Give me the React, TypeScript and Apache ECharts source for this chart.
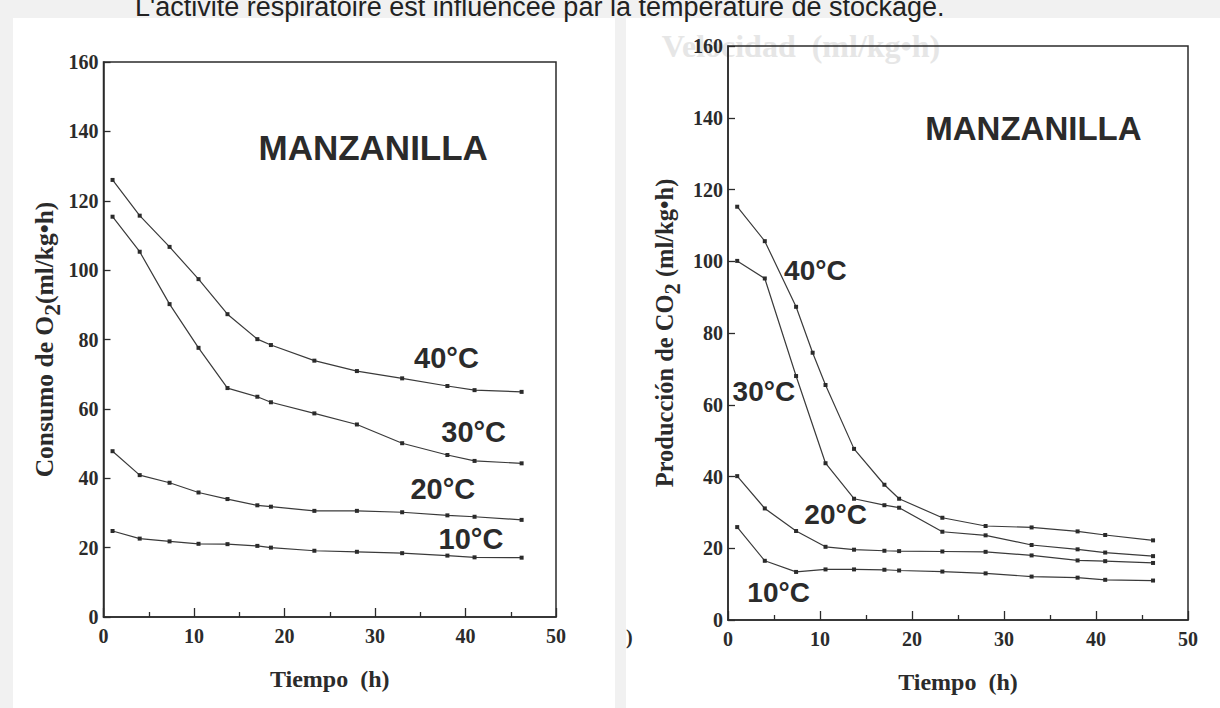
import React, { useEffect, useRef } from "react";
import * as echarts from "echarts";

// ---- data ----
const hoursO2 = [1, 4, 7.3, 10.5, 13.7, 17, 18.5, 23.3, 28, 33, 38, 41, 46.2];
const o2_40C = [126, 115.7, 106.7, 97.4, 87.3, 80.1, 78.4, 73.9, 70.9, 68.8, 66.6, 65.4, 64.9];
const o2_30C = [115.4, 105.3, 90.2, 77.6, 66.0, 63.5, 61.9, 58.7, 55.5, 50.1, 46.7, 45.0, 44.3];
const o2_20C = [47.8, 40.9, 38.7, 35.9, 34.0, 32.2, 31.8, 30.6, 30.6, 30.2, 29.3, 28.9, 28.0];
const o2_10C = [24.8, 22.6, 21.8, 21.1, 21.0, 20.5, 20.0, 19.1, 18.8, 18.4, 17.7, 17.2, 17.1];

const hoursCO2 = [1, 4, 7.4, 10.6, 13.7, 17, 18.6, 23.3, 28, 33, 38, 41, 46.2];
const hoursCO2_40C = [1, 4, 7.4, 9.2, 10.6, 13.7, 17, 18.6, 23.3, 28, 33, 38, 41, 46.2];
const co2_40C = [115.2, 105.6, 87.3, 74.5, 65.5, 47.7, 37.7, 33.8, 28.5, 26.2, 25.8, 24.7, 23.7, 22.2];
const co2_30C = [100.1, 95.2, 68.0, 43.7, 33.8, 32.0, 31.3, 24.6, 23.6, 20.9, 19.7, 18.8, 17.8];
const co2_20C = [40.1, 31.1, 24.8, 20.4, 19.6, 19.3, 19.2, 19.1, 19.0, 18.0, 16.6, 16.4, 15.9];
const co2_10C = [25.9, 16.5, 13.4, 14.1, 14.1, 14.0, 13.8, 13.5, 13.0, 12.1, 11.8, 11.2, 11.0];

const tempLabels = ["40°C", "30°C", "20°C", "10°C"];
// annotation anchors in data coordinates
const o2LabelX = [37.9, 40.9, 37.5, 40.6];
const o2LabelY = [74.7, 53.2, 37.0, 22.5];
const co2LabelX = [9.5, 3.9, 11.7, 5.5];
const co2LabelY = [97.3, 63.8, 29.3, 7.8];
const titleText = "MANZANILLA";
const titleO2 = [29.8, 135.3];
const titleCO2 = [33.2, 136.9];

const X_MIN = 0, X_MAX = 50, X_STEP = 10;
const Y_MIN = 0, Y_MAX = 160, Y_STEP = 20;

const headerText = "L'activité respiratoire est influencée par la température de stockage.";
const xTitle = "Tiempo  (h)";

const SERIF = "'Liberation Serif', 'DejaVu Serif', serif";
const SANS = "'Liberation Sans', Arial, sans-serif";
const INK = "#2b2b2b";

function pairs(xs: number[], ys: number[]) {
  return ys.map((v, i) => [xs[i], v]);
}

function xAxisFor(gridIndex: number, nameGap: number) {
  return {
    type: "value",
    gridIndex,
    min: X_MIN,
    max: X_MAX,
    interval: X_STEP,
    axisLine: { show: true, lineStyle: { color: INK, width: 1.5 } },
    axisTick: { show: true, inside: true, length: 9, lineStyle: { color: INK, width: 1.3 } },
    minorTick: { show: true, splitNumber: 2, length: 5, lineStyle: { color: INK, width: 1.3 } },
    splitLine: { show: false },
    axisLabel: { fontFamily: SERIF, fontWeight: "bold", fontSize: 20, color: INK, margin: 9 },
    name: xTitle,
    nameLocation: "middle",
    nameGap,
    nameTextStyle: { fontFamily: SERIF, fontWeight: "bold", fontSize: 24, color: INK },
  };
}

function yAxisFor(gridIndex: number, name: string, nameGap: number, fs: number) {
  return {
    type: "value",
    gridIndex,
    min: Y_MIN,
    max: Y_MAX,
    interval: Y_STEP,
    axisLine: { show: true, lineStyle: { color: INK, width: 1.5 } },
    axisTick: { show: true, inside: true, length: 7, lineStyle: { color: INK, width: 1.3 } },
    splitLine: { show: false },
    axisLabel: { fontFamily: SERIF, fontWeight: "bold", fontSize: 20, color: INK, margin: 5 },
    name,
    nameLocation: "middle",
    nameRotate: 90,
    nameGap,
    nameTextStyle: {
      rich: {
        a: { fontFamily: SERIF, fontWeight: "bold", fontSize: fs, color: INK, lineHeight: 32, verticalAlign: "top" },
        s: { fontFamily: SERIF, fontWeight: "bold", fontSize: fs - 2, color: INK, lineHeight: 32, verticalAlign: "bottom" },
      },
    },
  };
}

function lineSeries(name: string, xi: number, xs: number[], ys: number[]) {
  return {
    type: "line",
    name,
    xAxisIndex: xi,
    yAxisIndex: xi,
    data: pairs(xs, ys),
    symbol: "rect",
    symbolSize: 4,
    showSymbol: true,
    itemStyle: { color: INK },
    lineStyle: { color: "#3a3a3a", width: 1.2 },
    z: 3,
  };
}

export default function App() {
  const ref = useRef<HTMLDivElement>(null);

  useEffect(() => {
    document.body.style.margin = "0";
    const chart = echarts.init(ref.current!, null, { renderer: "svg" });
    const option: any = {
      animation: false,
      backgroundColor: "#f1f1f1",
      grid: [
        { left: 103.5, top: 62, width: 452.5, height: 555, show: true, borderColor: INK, borderWidth: 1.5, containLabel: false },
        { left: 728, top: 46, width: 460, height: 574, show: true, borderColor: INK, borderWidth: 1.5, containLabel: false },
      ],
      xAxis: [xAxisFor(0, 50), xAxisFor(1, 50)],
      yAxis: [
        yAxisFor(0, "{a|Consumo de O}{s|2}{a|(ml/kg•h)}", 40, 25.5),
        yAxisFor(1, "{a|Producción de CO}{s|2}{a| (ml/kg•h)}", 44, 24.5),
      ],
      series: [
        lineSeries("O2 40°C", 0, hoursO2, o2_40C),
        lineSeries("O2 30°C", 0, hoursO2, o2_30C),
        lineSeries("O2 20°C", 0, hoursO2, o2_20C),
        lineSeries("O2 10°C", 0, hoursO2, o2_10C),
        lineSeries("CO2 40°C", 1, hoursCO2_40C, co2_40C),
        lineSeries("CO2 30°C", 1, hoursCO2, co2_30C),
        lineSeries("CO2 20°C", 1, hoursCO2, co2_20C),
        lineSeries("CO2 10°C", 1, hoursCO2, co2_10C),
      ],
    };
    chart.setOption(option);

    const toPx = (g: number, x: number, y: number) =>
      chart.convertToPixel({ gridIndex: g } as any, [x, y]) as number[];

    const annot: any[] = [];
    const addText = (g: number, x: number, y: number, text: string, size: number) => {
      const p = toPx(g, x, y);
      annot.push({
        type: "text",
        x: p[0],
        y: p[1],
        z: 50,
        style: {
          text,
          fontFamily: SANS,
          fontWeight: "bold",
          fontSize: size,
          fill: INK,
          align: "center",
          verticalAlign: "middle",
        },
      });
    };
    addText(0, titleO2[0], titleO2[1], titleText, 35);
    addText(1, titleCO2[0], titleCO2[1], titleText, 33);
    tempLabels.forEach((t, i) => {
      addText(0, o2LabelX[i], o2LabelY[i], t, 29);
      addText(1, co2LabelX[i], co2LabelY[i], t, 28);
    });

    chart.setOption({
      graphic: [
        { type: "rect", z: -100, silent: true, shape: { x: 13, y: 18, width: 602, height: 690 }, style: { fill: "#ffffff" } },
        { type: "rect", z: -100, silent: true, shape: { x: 626, y: 18, width: 594, height: 690 }, style: { fill: "#ffffff" } },
        {
          type: "text", z: -50, x: 801, y: 46,
          style: { text: "Velocidad  (ml/kg•h)", fontFamily: SERIF, fontWeight: "bold", fontSize: 32, fill: "#e6e6e6", align: "center", verticalAlign: "middle" },
        },
        {
          type: "text", z: 60, x: 135, y: 20,
          style: { text: headerText, fontFamily: SANS, fontSize: 27, fill: "#222", align: "left", verticalAlign: "bottom" },
        },
        {
          type: "text", z: 60, x: 626, y: 637,
          style: { text: ")", fontFamily: SERIF, fontWeight: "bold", fontSize: 20, fill: INK, align: "left", verticalAlign: "middle" },
        },
        ...annot,
      ],
    });

    return () => chart.dispose();
  }, []);

  return <div ref={ref} style={{ width: 1220, height: 708 }} />;
}
